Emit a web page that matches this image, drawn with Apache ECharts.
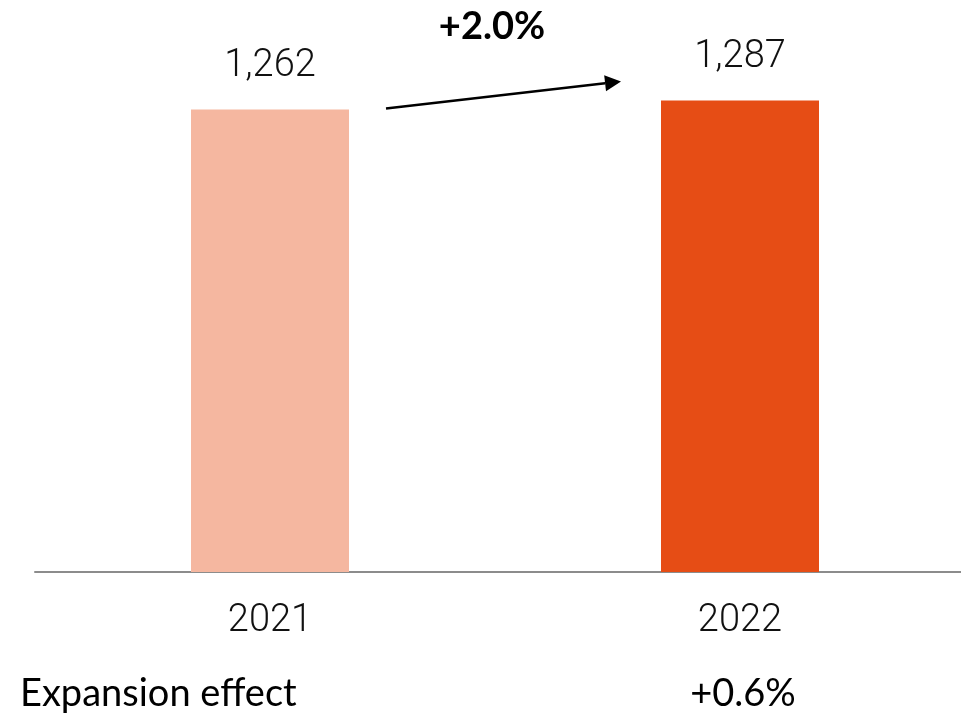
<!DOCTYPE html>
<html>
<head>
<meta charset="utf-8">
<script src="https://cdn.jsdelivr.net/npm/echarts@6/dist/echarts.min.js"></script>
<style>
  html, body { margin: 0; padding: 0; background: #fff; }
  #chart { width: 961px; height: 715px; }
</style>
</head>
<body>
<div id="chart"></div>
<script>
// Sales by year
const years = ['2021', '2022'];
const values = [1262, 1287];
const barColors = ['#F5B7A0', '#E64D15'];
const footLabel = 'Expansion effect';
const footValues = ['', '+0.6%'];

const numFont = 'Roboto, "DejaVu Sans Condensed", sans-serif';
const textFont = 'Lato, "Open Sans", sans-serif';
const growth = (values[1] / values[0] - 1) * 100;
const growthText = (growth >= 0 ? '+' : '') + growth.toFixed(1) + '%';

const chart = echarts.init(document.getElementById('chart'));

chart.setOption({
  animation: false,
  grid: { left: 35, width: 940, top: 59, bottom: 143, outerBoundsMode: 'none', containLabel: false },
  xAxis: {
    type: 'category',
    data: years,
    axisLine: { lineStyle: { color: '#8c8c8c', width: 2 } },
    axisTick: { show: false },
    axisLabel: { color: '#111', fontSize: 38, fontWeight: 300, fontFamily: numFont, margin: 30 }
  },
  yAxis: {
    type: 'value', min: 0, max: 1400,
    show: false, splitLine: { show: false }
  },
  series: [{
    type: 'bar',
    barWidth: 158,
    data: values.map((v, i) => ({ value: v, itemStyle: { color: barColors[i] } })),
    label: {
      show: true, position: 'top', distance: 24,
      color: '#111', fontSize: 38, fontWeight: 300, fontFamily: numFont,
      formatter: p => p.value.toLocaleString('en-US')
    }
  }]
});

// Growth arrow and footer row, placed from the axis scale
const p0 = chart.convertToPixel({ xAxisIndex: 0, yAxisIndex: 0 }, [0, values[0]]);
const p1 = chart.convertToPixel({ xAxisIndex: 0, yAxisIndex: 0 }, [1, values[1]]);
const x0 = p0[0] + 116, y0 = p0[1] - 1;
const x1 = p1[0] - 119, y1 = p1[1] - 19;
const ang = Math.atan2(y1 - y0, x1 - x0);
const headLen = 16, headW = 8;
const bx = x1 - headLen * Math.cos(ang), by = y1 - headLen * Math.sin(ang);
const nx = -Math.sin(ang), ny = Math.cos(ang);

chart.setOption({
  graphic: [
    { type: 'line', shape: { x1: x0, y1: y0, x2: bx, y2: by }, style: { stroke: '#000', lineWidth: 2.5 } },
    { type: 'polygon', shape: { points: [[x1, y1], [bx + nx * headW, by + ny * headW], [bx - nx * headW, by - ny * headW]] }, style: { fill: '#000' } },
    { type: 'text', x: (p0[0] + p1[0]) / 2 - 13, y: 27, style: { text: growthText, fill: '#000', font: 'bold 38px ' + textFont, align: 'center', verticalAlign: 'middle' } },
    { type: 'text', x: 20, y: 694, style: { text: footLabel, fill: '#000', font: '38px ' + textFont, align: 'left', verticalAlign: 'middle' } },
    { type: 'text', x: p1[0] + 3, y: 694, style: { text: footValues[1], fill: '#000', font: '38px ' + textFont, align: 'center', verticalAlign: 'middle' } }
  ]
});
</script>
</body>
</html>
